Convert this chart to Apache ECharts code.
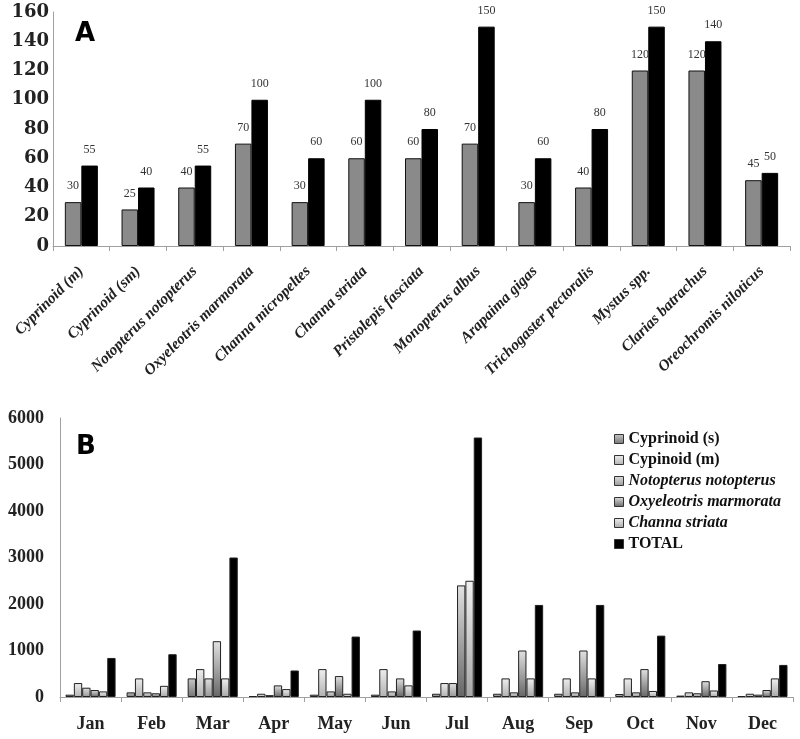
<!DOCTYPE html>
<html>
<head>
<meta charset="utf-8">
<script src="https://cdn.jsdelivr.net/npm/echarts@6/dist/echarts.min.js"></script>
<style>html,body{margin:0;padding:0;background:#fff}#c{width:800px;height:739px}</style>
</head>
<body>
<div id="c"></div>
<script>
// ---- Panel A data ----
const speciesA = ['Cyprinoid (m)','Cyprinoid (sm)','Notopterus notopterus','Oxyeleotris marmorata','Channa micropeltes','Channa striata','Pristolepis fasciata','Monopterus albus','Arapaima gigas','Trichogaster pectoralis','Mystus spp.','Clarias batrachus','Oreochromis niloticus'];
const valuesGray = [30,25,40,70,30,60,60,70,30,40,120,120,45];
const valuesBlack = [55,40,55,100,60,100,80,150,60,80,150,140,50];
const ticksA = [0,20,40,60,80,100,120,140,160];

// ---- Panel B data ----
const months = ['Jan','Feb','Mar','Apr','May','Jun','Jul','Aug','Sep','Oct','Nov','Dec'];
const seriesNamesB = ['Cyprinoid (s)','Cypinoid (m)','Notopterus notopterus','Oxyeleotris marmorata','Channa striata','TOTAL'];
const cyprinoidS = [50,100,400,20,50,50,70,70,70,65,30,20];
const cypinoidM = [300,400,600,70,600,600,300,400,400,400,100,70];
const notopterus = [200,100,400,40,120,120,300,100,100,100,80,50];
const oxyeleotris = [150,80,1200,250,450,400,2400,1000,1000,600,340,150];
const channa = [120,240,400,170,70,250,2500,400,400,130,140,400];
const totalB = [840,920,3000,570,1300,1430,5580,1980,1980,1320,710,690];
const ticksB = [0,1000,2000,3000,4000,5000,6000];
const italicNames = ['Notopterus notopterus','Oxyeleotris marmorata','Channa striata'];

const chart = echarts.init(document.getElementById('c'), null, {renderer:'canvas'});
const serif = 'Liberation Serif';
function grad(top, bottom){
  return new echarts.graphic.LinearGradient(0,0,0,1,[{offset:0,color:top},{offset:1,color:bottom}]);
}
const fillsB = [grad('#c8c8c8','#747474'), grad('#eeeeee','#b2b2b2'), grad('#e0e0e0','#979797'), grad('#e2e2e2','#666666'), grad('#f0f0f0','#a8a8a8'), '#000000'];
const dataB = [cyprinoidS, cypinoidM, notopterus, oxyeleotris, channa, totalB];

const axisLineStyle = {lineStyle:{color:'#a0a0a0', width:1}};
const labelA = {show:true, position:'top', distance:10, fontFamily:serif, fontSize:12, color:'#333'};

const option = {
  animation:false,
  backgroundColor:'#fff',
  grid:[
    {left:53, top:12, width:737, height:234},
    {left:60, top:418, width:733, height:279}
  ],
  xAxis:[
    {type:'category', gridIndex:0, data:speciesA, axisLine:axisLineStyle,
     axisTick:{show:true, length:5, lineStyle:{color:'#a0a0a0'}},
     axisLabel:{interval:0, rotate:45, margin:23, fontFamily:serif, fontWeight:'bold', fontStyle:'italic', fontSize:15.5, color:'#222'}},
    {type:'category', gridIndex:1, data:months, axisLine:axisLineStyle,
     axisTick:{show:true, length:5, lineStyle:{color:'#a0a0a0'}},
     axisLabel:{interval:0, margin:18, fontFamily:serif, fontWeight:'bold', fontSize:18, color:'#222'}}
  ],
  yAxis:[
    {type:'value', gridIndex:0, min:ticksA[0], max:ticksA[ticksA.length-1], interval:20,
     axisLine:{show:true, lineStyle:{color:'#a0a0a0'}}, axisTick:{show:false}, splitLine:{show:false},
     axisLabel:{margin:4, fontFamily:'DejaVu Serif', fontWeight:'bold', fontSize:18, color:'#222'}},
    {type:'value', gridIndex:1, min:ticksB[0], max:ticksB[ticksB.length-1], interval:1000,
     axisLine:{show:true, lineStyle:{color:'#a0a0a0'}}, axisTick:{show:false}, splitLine:{show:false},
     axisLabel:{margin:16, fontFamily:serif, fontWeight:'bold', fontSize:18, color:'#222',
       formatter:function(v){ return String(v); }}}
  ],
  legend:{
    data:seriesNamesB, orient:'vertical', left:609, top:426, itemWidth:9, itemHeight:9, itemGap:5,
    icon:'rect',
    itemStyle:{borderColor:'#333', borderWidth:1},
    formatter:function(n){ return italicNames.indexOf(n) >= 0 ? '{i|'+n+'}' : '{b|'+n+'}'; },
    textStyle:{fontFamily:serif, fontSize:16, fontWeight:'bold', color:'#111', lineHeight:16,
      rich:{
        i:{fontFamily:serif, fontSize:16, fontWeight:'bold', fontStyle:'italic', color:'#111', lineHeight:16},
        b:{fontFamily:serif, fontSize:16, fontWeight:'bold', color:'#111', lineHeight:16}
      }}
  },
  graphic:[
    {type:'text', left:75, top:21, style:{text:'A', font:'bold 26px "DejaVu Sans"', fill:'#000'}},
    {type:'text', left:76, top:434, style:{text:'B', font:'bold 26px "DejaVu Sans"', fill:'#000'}}
  ],
  series:[
    {name:'A-gray', type:'bar', xAxisIndex:0, yAxisIndex:0, data:valuesGray, barWidth:16.5, barGap:'0%',
     itemStyle:{color:'#8a8a8a', borderColor:'#111', borderWidth:1}, label:labelA},
    {name:'A-black', type:'bar', xAxisIndex:0, yAxisIndex:0, data:valuesBlack, barWidth:16.5, barGap:'0%',
     itemStyle:{color:'#000', borderColor:'#000', borderWidth:1}, label:labelA}
  ].concat(seriesNamesB.map(function(n,i){
    return {name:n, type:'bar', xAxisIndex:1, yAxisIndex:1, data:dataB[i], barGap:'0%', barCategoryGap:'18%',
      itemStyle:{color:fillsB[i], borderColor:'#222', borderWidth:1}};
  }))
};
chart.setOption(option);
</script>
</body>
</html>
